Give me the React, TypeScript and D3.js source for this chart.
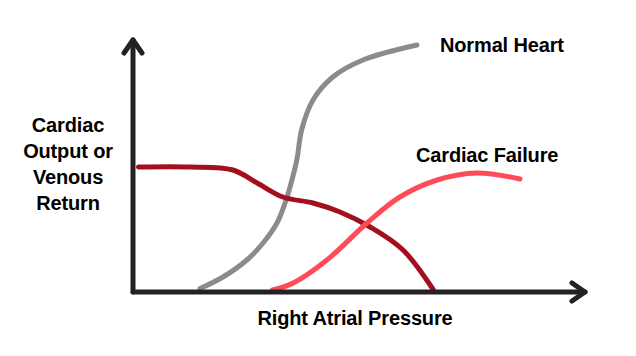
import React from "react";
import * as d3 from "d3";

const normalHeartX = [14.9, 20, 25.3, 28.9, 32, 33.8, 34.9, 36.4, 37.5, 40, 44.4, 51.1, 63.1];
const normalHeartY = [1.4, 6, 12.8, 19.6, 27.6, 35.6, 42, 52.8, 65, 76.8, 86, 92.8, 98.8];

const venousReturnX = [1.2, 12.7, 22.2, 27.6, 33.3, 40, 46, 52.7, 60, 66.7];
const venousReturnY = [50, 50, 48.8, 43.6, 38, 35.6, 32, 26, 16.8, 1];

const cardiacFailureX = [31, 35.6, 43.1, 52, 59.3, 67.6, 76.4, 86];
const cardiacFailureY = [0.8, 3.6, 12.8, 27.6, 38, 44.8, 47.6, 45.2];

const yLabelLines = ["Cardiac", "Output or", "Venous", "Return"];
const xLabel = "Right Atrial Pressure";
const normalLabel = "Normal Heart";
const failureLabel = "Cardiac Failure";

const W = 636;
const H = 356;

export default function App() {
  const x = d3.scaleLinear().domain([0, 100]).range([133, 583]);
  const y = d3.scaleLinear().domain([0, 100]).range([292, 42]);
  const line = d3
    .line<[number, number]>()
    .x((d) => x(d[0]))
    .y((d) => y(d[1]))
    .curve(d3.curveCatmullRom.alpha(0.5));
  const zip = (a: number[], b: number[]) => a.map((v, i) => [v, b[i]] as [number, number]);

  const x0 = x(0);
  const y0 = y(0);
  const xEnd = x(100) + 2;
  const yEnd = y(100) - 2;
  const font = "'Liberation Sans', Arial, sans-serif";

  return (
    <svg width={W} height={H} style={{ position: "absolute", left: 0, top: 0, background: "#fff" }}>
      <g fill="none" strokeLinecap="round" strokeLinejoin="round">
        <path d={line(zip(normalHeartX, normalHeartY)) || ""} stroke="#8e8a8a" strokeWidth={5} />
        <path d={line(zip(venousReturnX, venousReturnY)) || ""} stroke="#a30f1e" strokeWidth={5} />
        <path d={line(zip(cardiacFailureX, cardiacFailureY)) || ""} stroke="#ff4a57" strokeWidth={5} />
      </g>
      <g fill="none" stroke="#222" strokeWidth={5} strokeLinecap="round" strokeLinejoin="round">
        <path d={`M${x0},${y0}L${x0},${yEnd}`} />
        <path d={`M${x0 - 9},${yEnd + 13}L${x0},${yEnd}L${x0 + 9},${yEnd + 13}`} />
        <path d={`M${x0},${y0}L${xEnd},${y0}`} />
        <path d={`M${xEnd - 13},${y0 - 9}L${xEnd},${y0}L${xEnd - 13},${y0 + 9}`} />
      </g>
      <g fontFamily={font} fontWeight="bold" fontSize={20} fill="#000" letterSpacing={-0.15}>
        <text x={440} y={52}>{normalLabel}</text>
        <text x={416} y={162}>{failureLabel}</text>
        <text x={355} y={325} textAnchor="middle">{xLabel}</text>
        {yLabelLines.map((t, i) => (
          <text key={t} x={68} y={132 + i * 26} textAnchor="middle">{t}</text>
        ))}
      </g>
    </svg>
  );
}
